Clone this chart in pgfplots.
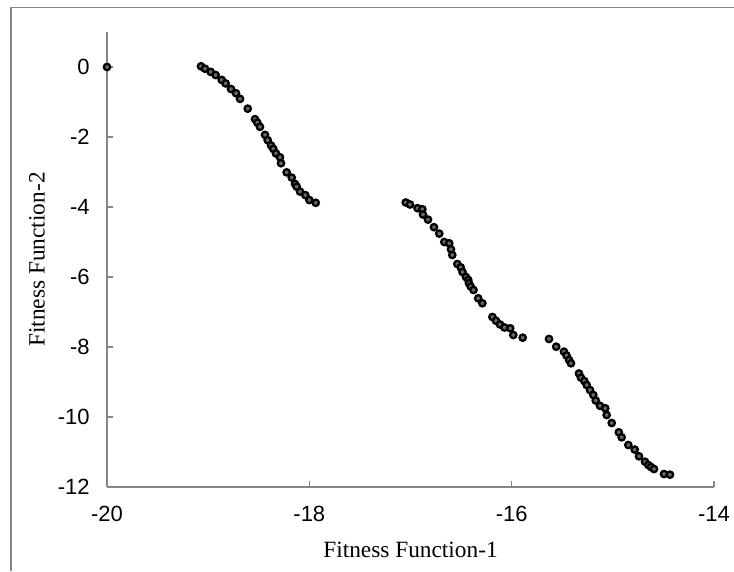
\documentclass[border=0pt]{standalone}
\usepackage{fontspec}
\setmainfont{Liberation Sans}
\newfontfamily\labelfont{Liberation Serif}
\usepackage{pgfplots}
\pgfplotsset{compat=1.18}
\definecolor{axisgray}{RGB}{134,134,134}
\definecolor{markgray}{RGB}{105,105,105}

\begin{document}
\begin{tikzpicture}[x=1pt,y=1pt]
\useasboundingbox (0,0) rectangle (550.5,428.25);
% chart area frame (left and top edges)
\draw[axisgray, line width=0.8pt] (8.25,0) -- (8.25,422.6) -- (560,422.6);
\begin{axis}[
  at={(80.25pt,63pt)}, anchor=south west,
  scale only axis, width=455.25pt, height=341.25pt,
  xmin=-20, xmax=-14, ymin=-12, ymax=1,
  xtick={-20,-18,-16,-14}, ytick={-12,-10,-8,-6,-4,-2,0},
  axis x line*=bottom, axis y line*=left,
  axis line style={axisgray, line width=0.8pt, -},
  tick style={axisgray, line width=0.8pt},
  tick align=inside, major tick length=4.5pt,
  /pgf/number format/assume math mode=true,
  xticklabel style={font=\fontsize{16.5}{19}\selectfont, yshift=-11pt},
  yticklabel style={font=\fontsize{16.5}{19}\selectfont, xshift=-9.5pt},
  xlabel={Fitness Function-1}, ylabel={Fitness Function-2},
  xlabel style={font=\labelfont\fontsize{17.5}{20}\selectfont, at={(axis description cs:0.5,-0.138)}, anchor=center},
  ylabel style={font=\labelfont\fontsize{17.5}{20}\selectfont, at={(axis description cs:-0.1153,0.5)}, anchor=center},
  clip=false,
]
\addplot[only marks, mark=*, mark size=2.4pt,
  mark options={draw=black, fill=markgray, line width=1.7pt}] table {
x y
-20.000 0.000
-19.071 0.020
-19.031 -0.050
-18.975 -0.140
-18.926 -0.230
-18.866 -0.370
-18.827 -0.470
-18.774 -0.630
-18.725 -0.750
-18.685 -0.910
-18.609 -1.190
-18.537 -1.490
-18.514 -1.590
-18.488 -1.710
-18.438 -1.940
-18.412 -2.090
-18.379 -2.240
-18.356 -2.340
-18.330 -2.470
-18.290 -2.580
-18.280 -2.750
-18.224 -3.010
-18.174 -3.160
-18.142 -3.340
-18.125 -3.420
-18.092 -3.560
-18.040 -3.660
-18.000 -3.800
-17.937 -3.880
-17.047 -3.871
-17.005 -3.929
-16.931 -4.034
-16.883 -4.063
-16.877 -4.214
-16.827 -4.360
-16.768 -4.577
-16.716 -4.760
-16.666 -5.000
-16.617 -5.037
-16.600 -5.209
-16.587 -5.371
-16.537 -5.629
-16.504 -5.723
-16.486 -5.857
-16.452 -6.000
-16.429 -6.086
-16.422 -6.180
-16.405 -6.271
-16.377 -6.371
-16.331 -6.609
-16.290 -6.751
-16.190 -7.143
-16.155 -7.251
-16.115 -7.357
-16.071 -7.443
-16.014 -7.466
-15.984 -7.657
-15.891 -7.734
-15.631 -7.771
-15.560 -7.991
-15.483 -8.134
-15.458 -8.243
-15.433 -8.371
-15.414 -8.466
-15.335 -8.757
-15.315 -8.877
-15.282 -8.971
-15.258 -9.086
-15.226 -9.229
-15.193 -9.371
-15.169 -9.529
-15.127 -9.680
-15.075 -9.751
-15.061 -9.943
-15.011 -10.171
-14.941 -10.437
-14.913 -10.580
-14.847 -10.800
-14.784 -10.931
-14.741 -11.123
-14.682 -11.277
-14.650 -11.371
-14.623 -11.429
-14.593 -11.486
-14.494 -11.629
-14.435 -11.649
};
\end{axis}
\end{tikzpicture}
\end{document}
